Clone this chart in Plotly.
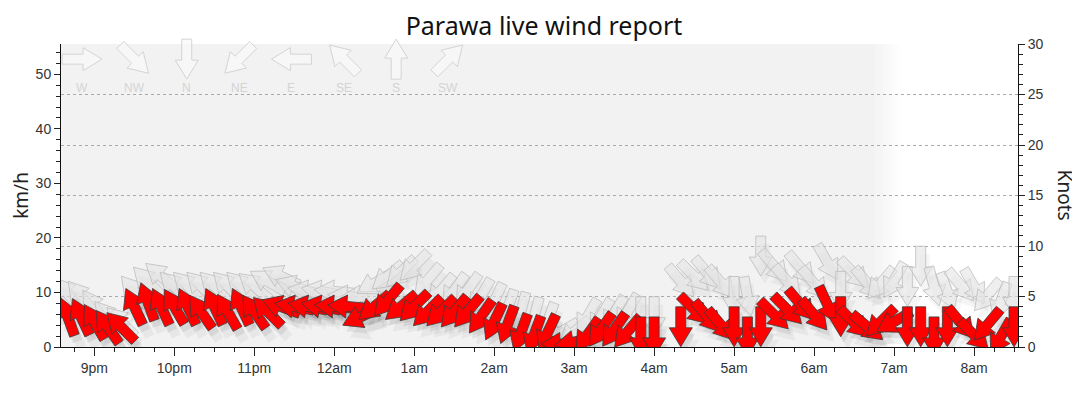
import math
from datetime import datetime, timedelta
import plotly.graph_objects as go

KMH_PER_KNOT = 1.852

# wind readings every 10 minutes (knots, direction the wind comes from)
times = ["20:40", "20:50", "21:00", "21:10", "21:20", "21:30", "21:40", "21:50",
         "22:00", "22:10", "22:20", "22:30", "22:40", "22:50", "23:00", "23:10",
         "23:20", "23:30", "23:40", "23:50", "00:00", "00:10", "00:20", "00:30",
         "00:40", "00:50", "01:00", "01:10", "01:20", "01:30", "01:40", "01:50",
         "02:00", "02:10", "02:20", "02:30", "02:40", "02:50", "03:00", "03:10",
         "03:20", "03:30", "03:40", "03:50", "04:00", "04:20", "04:30", "04:40",
         "04:50", "05:00", "05:10", "05:20", "05:30", "05:40", "05:50", "06:00",
         "06:10", "06:20", "06:30", "06:40", "06:50", "07:00", "07:10", "07:20",
         "07:30", "07:40", "07:50", "08:00", "08:10", "08:20", "08:30"]
avg_kn = [3, 3, 2.5, 2, 2, 4, 4.5, 4,
          4, 4, 3.5, 4, 3.5, 4, 3.5, 3.5,
          4, 4, 4, 4, 4, 4, 3, 4,
          4.6, 4, 4, 3.5, 3.5, 3.5, 3.5, 3,
          2.5, 2.2, 1.4, 1.2, 1.4, 0.3, 0.5, 1.2,
          1.7, 1.7, 1.5, 1, 1, 2, 3.7, 3,
          2.2, 2, 1, 2, 3.2, 3.7, 4.2, 3.2,
          4.2, 3, 2.4, 2, 2.5, 2.5, 2, 2,
          1, 2, 2.4, 1.2, 2.2, 1, 2]
avg_dir = [160, 155, 150, 145, 135, 155, 160, 155,
           150, 155, 145, 155, 150, 155, 145, 135,
           110, 100, 100, 100, 95, 95, 65, 50,
           40, 50, 45, 45, 45, 40, 40, 35,
           25, 20, 20, 20, 25, 90, 80, 35,
           35, 35, 40, 0, 0, 0, 315, 320,
           320, 0, 0, 0, 315, 315, 320, 320,
           335, 0, 315, 310, 45, 60, 0, 0,
           0, 0, 320, 315, 40, 30, 0]
gust_kn = [5.3, 5, 4, 3, 2.5, 5.5, 6.5, 7,
           6, 6, 6, 6, 6, 6, 6, 6.5,
           7, 6, 5.5, 5.5, 5.5, 5, 5, 6.3,
           7, 7.4, 8, 6.6, 5.6, 5.6, 5.6, 5,
           4.5, 3.8, 3.5, 3, 2.5, 1.5, 1.5, 3,
           3, 3.3, 3.5, 3, 3, 6.5, 7, 7.3,
           6.4, 5, 5, 9, 8, 6.5, 7.8, 6.3,
           8.4, 5.5, 7.3, 6.3, 6.3, 6.6, 6, 8,
           6, 5.5, 6.1, 6, 5.1, 4.5, 5]
gust_dir = [140, 140, 145, 140, 135, 140, 135, 130,
            135, 135, 135, 135, 135, 135, 130, 120,
            115, 110, 100, 100, 95, 95, 90, 60,
            50, 45, 45, 40, 40, 35, 35, 30,
            25, 20, 15, 15, 20, 60, 50, 30,
            30, 30, 30, 0, 0, 320, 315, 320,
            320, 0, 350, 0, 320, 320, 320, 320,
            330, 0, 315, 320, 40, 30, 0, 0,
            345, 340, 320, 330, 40, 20, 0]

hour_ticks = ["21:00", "22:00", "23:00", "00:00", "01:00", "02:00",
              "03:00", "04:00", "05:00", "06:00", "07:00", "08:00"]
hour_labels = ["9pm", "10pm", "11pm", "12am", "1am", "2am",
               "3am", "4am", "5am", "6am", "7am", "8am"]

compass_labels = ["W", "NW", "N", "NE", "E", "SE", "S", "SW"]
compass_dirs = [270, 315, 0, 45, 90, 135, 180, 225]


def stamp(hhmm):
    day = "2024-03-20" if int(hhmm[:2]) >= 12 else "2024-03-21"
    return day + " " + hhmm


# block arrow, centred on the point, pointing along +u (pixels)
ARROW = [(-20, -5), (1, -5), (1, -11.5), (20, 0), (1, 11.5), (1, 5), (-20, 5)]


def arrow_path(direction, dx=0.0, dy=0.0):
    b = math.radians(direction + 180)
    ux, uy = math.sin(b), math.cos(b)
    nx, ny = -uy, ux
    pts = [(u * ux + v * nx + dx, u * uy + v * ny + dy) for u, v in ARROW]
    return "M " + " L ".join("%.2f,%.2f" % p for p in pts) + " Z"


def wind_arrow(t, kn, direction, fill, line_color, line_width, dx=0.0, dy=0.0):
    return dict(type="path", xref="x", yref="y2",
                xsizemode="pixel", ysizemode="pixel",
                xanchor=stamp(t), yanchor=kn,
                path=arrow_path(direction, dx, dy),
                fillcolor=fill, line=dict(color=line_color, width=line_width),
                layer="above")


shapes = []

# night shading with a soft edge at sunrise
x_start = stamp("20:35")
x_end = stamp("08:33")
shapes.append(dict(type="rect", xref="x", yref="paper", x0=x_start, x1=stamp("06:45"),
                   y0=0, y1=1, fillcolor="#f2f2f2", line=dict(width=0), layer="below"))
fade0 = datetime(2024, 3, 21, 6, 45)
n_fade = 10
for i in range(n_fade):
    a = fade0 + timedelta(minutes=2 * i)
    b = fade0 + timedelta(minutes=2 * (i + 1))
    alpha = 1 - (i + 0.5) / n_fade
    shapes.append(dict(type="rect", xref="x", yref="paper",
                       x0=a.strftime("%Y-%m-%d %H:%M"), x1=b.strftime("%Y-%m-%d %H:%M"),
                       y0=0, y1=1, fillcolor="rgba(242,242,242,%.2f)" % alpha,
                       line=dict(width=0), layer="below"))

# gust arrows (grey) and their shadows
for t, g, d in zip(times, gust_kn, gust_dir):
    shapes.append(wind_arrow(t, g, d, "rgba(0,0,0,0.04)", "rgba(0,0,0,0)", 0, 4, -8))
for t, g, d in zip(times, gust_kn, gust_dir):
    shapes.append(wind_arrow(t, g, d, "rgba(228,228,228,0.6)", "rgba(185,185,185,0.75)", 1))

# average arrows (red) with soft drop shadow
for t, k, d in zip(times, avg_kn, avg_dir):
    shapes.append(wind_arrow(t, k, d, "rgba(0,0,0,0.07)", "rgba(0,0,0,0)", 0, 3, -6))
    shapes.append(wind_arrow(t, k, d, "rgba(0,0,0,0.045)", "rgba(0,0,0,0)", 0, 7, -12))
for t, k, d in zip(times, avg_kn, avg_dir):
    shapes.append(wind_arrow(t, k, d, "#ff0000", "#3a3a3a", 0.8))

# compass key in the top-left corner
annotations = []
for i, (lab, d) in enumerate(zip(compass_labels, compass_dirs)):
    xf = 0.022 + i * 0.0547
    shapes.append(dict(type="path", xref="paper", yref="paper",
                       xsizemode="pixel", ysizemode="pixel",
                       xanchor=xf, yanchor=0.95, path=arrow_path(d),
                       fillcolor="rgba(250,250,250,0.7)",
                       line=dict(color="#d4d4d4", width=1), layer="above"))
    annotations.append(dict(text=lab, xref="paper", yref="paper", x=xf, y=0.855,
                            xanchor="center", yanchor="middle", showarrow=False,
                            font=dict(size=12, color="#d4d4d4",
                                      family="Liberation Sans, Arial")))

annotations.append(dict(text="km/h", xref="paper", yref="paper", x=-0.0425, y=0.5,
                        xanchor="center", yanchor="middle", textangle=-90, showarrow=False,
                        font=dict(size=19, color="#222", family="Noto Sans, Open Sans")))
annotations.append(dict(text="Knots", xref="paper", yref="paper", x=1.05, y=0.5,
                        xanchor="center", yanchor="middle", textangle=90, showarrow=False,
                        font=dict(size=19, color="#222", family="Noto Sans, Open Sans")))

fig = go.Figure()
fig.add_scatter(x=[stamp(t) for t in times], y=[g * KMH_PER_KNOT for g in gust_kn],
                yaxis="y", mode="markers", marker=dict(opacity=0), name="Gust",
                hovertemplate="%{y:.1f} km/h<extra>gust</extra>")
fig.add_scatter(x=[stamp(t) for t in times], y=avg_kn, yaxis="y2", mode="markers",
                marker=dict(opacity=0), name="Average",
                hovertemplate="%{y} kn<extra>avg</extra>")

# the page body adds an 8px margin, so the figure is sized to fit the window
tick_font = dict(size=14, color="#333", family="Liberation Sans, Arial")
fig.update_layout(
    width=1072, height=406,
    margin=dict(l=53, r=62, t=36, b=67),
    paper_bgcolor="white", plot_bgcolor="white",
    showlegend=False,
    title=dict(text="Parawa live wind report", x=0.5, xanchor="center",
               y=0.956, yanchor="middle", yref="container",
               font=dict(size=25, color="#111", family="Noto Sans, Open Sans")),
    xaxis=dict(type="date", range=[x_start, x_end],
               tickmode="array", tickvals=[stamp(t) for t in hour_ticks], ticktext=hour_labels,
               ticks="outside", ticklen=8, tickcolor="#222", tickfont=tick_font,
               showline=True, linecolor="#111", linewidth=1, showgrid=False, zeroline=False,
               minor=dict(dtick=15 * 60 * 1000, tick0=stamp("21:00"), ticks="outside",
                          ticklen=4, tickcolor="#222", showgrid=False)),
    yaxis=dict(range=[0, 30 * KMH_PER_KNOT], dtick=10, ticks="outside", ticklen=6,
               tickcolor="#222", tickfont=tick_font, showline=True, linecolor="#111",
               linewidth=1, showgrid=False, zeroline=False,
               minor=dict(dtick=2, ticks="outside", ticklen=4, tickcolor="#222")),
    yaxis2=dict(range=[0, 30], dtick=5, overlaying="y", side="right", ticks="outside",
                ticklen=6, tickcolor="#222", tickfont=tick_font, showline=True,
                linecolor="#111", linewidth=1, showgrid=True, gridcolor="#aaa",
                griddash="dot", gridwidth=1, zeroline=False,
                minor=dict(dtick=1, ticks="outside", ticklen=4, tickcolor="#222")),
    shapes=shapes,
    annotations=annotations,
)

fig.write_html("out.html")
